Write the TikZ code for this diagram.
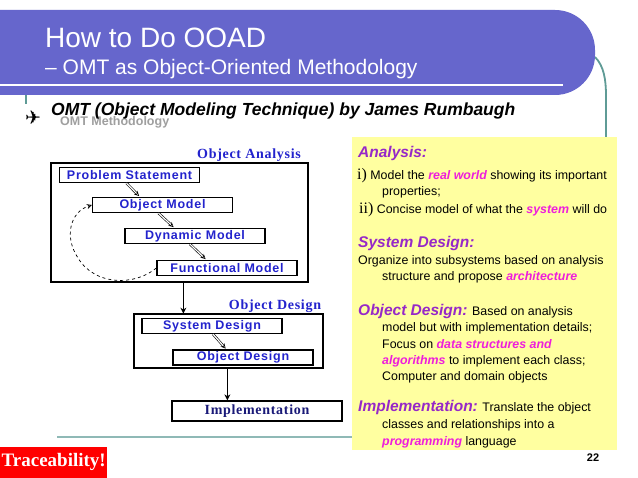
\documentclass[tikz,border=0pt]{standalone}
\usepackage{fontspec}
\setmainfont{Liberation Sans}
\newfontfamily\boxfont[LetterSpace=6]{Liberation Sans}
\newfontfamily\labfont[LetterSpace=5]{Liberation Serif}
\newfontfamily\romfont{Liberation Serif}
\newfontfamily\symfont{DejaVu Sans}
\usetikzlibrary{positioning, calc, arrows.meta}

\definecolor{barblue}{RGB}{102,102,204}
\definecolor{edgeteal}{RGB}{95,155,150}
\definecolor{panelyellow}{RGB}{255,255,160}
\definecolor{headpurple}{RGB}{150,40,200}
\definecolor{keypink}{RGB}{238,30,220}
\definecolor{diagblue}{RGB}{35,35,205}
\definecolor{implnavy}{RGB}{25,25,120}

\newcommand\pxsize[1]{\fontsize{#1}{#1}\selectfont}
\newcommand\secthead[1]{{\pxsize{15.5}\bfseries\itshape\color{headpurple}#1}}
\newcommand\keyword[1]{{\bfseries\itshape\color{keypink}#1}}

\begin{document}
\begin{tikzpicture}[x=1pt, y=-1pt,
    model/.style={draw, line width=1.3pt, font=\boxfont\bfseries\pxsize{12.5}, text=diagblue, minimum width=140, minimum height=15, inner sep=0},
    frame/.style={draw, line width=1.3pt, inner sep=0},
    lab/.style={font=\labfont\bfseries\pxsize{14}, text=diagblue, inner sep=0},
    hollow/.style={double, double distance=1.2pt, line width=0.6pt, -{Stealth[open, length=5pt, width=5pt]}, shorten >=1pt},
    down/.style={line width=1.2pt, -{Stealth[open, length=6pt, width=6pt]}},
    txtline/.style={anchor=base west, inner sep=0, font=\pxsize{12.4}}]
  \useasboundingbox (0,0) rectangle (638,478);
  \fill[white] (0,0) rectangle (638,478);

  % title bar
  \draw[edgeteal, line width=1.8pt] (595,57) .. controls (604,66) and (606,80) .. (606,96) -- (606,140);
  \draw[edgeteal, line width=1.8pt] (26,94) -- (26,104);
  \fill[barblue, rounded corners=40pt] (-60,10) rectangle (595,95);
  \draw[white, line width=2pt] (0,85) -- (563,85);
  \node[anchor=base west, inner sep=0, text=white, font=\pxsize{28}] (title) at (45,48) {How to Do OOAD};
  \node[anchor=base west, inner sep=0, text=white, font=\pxsize{21}] (subtitle) at (45,75) {– OMT as Object-Oriented Methodology};

  % bullet
  \node[anchor=base west, inner sep=0, font=\symfont\pxsize{19}] (plane) at (25,125) {✈};
  \node[anchor=base west, inner sep=0, text=gray!75, font=\bfseries\pxsize{12.5}] (omtgrey) at (60,126) {OMT Methodology};
  \node[anchor=base west, inner sep=0, font=\bfseries\itshape\pxsize{17.5}] (omt) at (51,116) {OMT (Object Modeling Technique) by James Rumbaugh};

  % analysis
  \node[lab] (analab) at (249,155) {Object Analysis};
  \node[frame, minimum width=257, minimum height=119] (ana) at (179.5,222.5) {};
  \node[model] (ps) at (129.5,175) {Problem Statement};
  \node[model] (om) at (162.5,205) {Object Model};
  \node[model] (dm) at (195,236) {Dynamic Model};
  \node[model] (fm) at (227,268) {Functional Model};
  \draw[hollow] ([xshift=-3]ps.south) -- ([xshift=48]om.north west);
  \draw[hollow] ([xshift=-4]om.south) -- ([xshift=50]dm.north west);
  \draw[hollow] ([xshift=-5]dm.south) -- ([xshift=50]fm.north west);
  \draw[dashed, line width=0.7pt, -{Stealth[open, length=5pt, width=5pt]}] (fm.west) .. controls (135,286) and (95,286) .. (78,258) .. controls (64,237) and (70,212) .. (om.west);

  % design
  \draw[down] ([xshift=133]ana.south west) -- ++(0,31) coordinate (desin);
  \node[lab] (deslab) at (275,306) {Object Design};
  \node[frame, minimum width=189, minimum height=54] (des) at (228.5,341) {};
  \node[model] (sd) at (212,326) {System Design};
  \node[model] (od) at (243,357.5) {Object Design};
  \draw[hollow] ([xshift=1]sd.south) -- ([xshift=54]od.north west);
  \node[draw, line width=1.3pt, inner sep=0, minimum width=170, minimum height=20, text=implnavy, font=\labfont\bfseries\pxsize{14}] (impl) at (257,411) {Implementation};
  \draw[down] ([xshift=94]des.south west) -- ([xshift=56]impl.north west);

  % notes
  \draw[edgeteal!70, line width=1.5pt] (57,437) -- (352,437);
  \node[fill=panelyellow, minimum width=265, minimum height=313, inner sep=0] (panel) at (484.5,293.5) {};
  \node[txtline] (n1) at (358,158) {\secthead{Analysis:}};
  \node[txtline] (n2) at (357,180) {{\romfont\pxsize{16}i)} Model the \keyword{real world} showing its important};
  \node[txtline] (n3) at (382,196) {properties;};
  \node[txtline] (n4) at (359,214) {{\romfont\pxsize{16}ii)} Concise model of what the \keyword{system} will do};
  \node[txtline] (n5) at (358,248) {\secthead{System Design:}};
  \node[txtline] (n6) at (358,265) {Organize into subsystems based on analysis};
  \node[txtline] (n7) at (382,281) {structure and propose \keyword{architecture}};
  \node[txtline] (n8) at (358,316) {\secthead{Object Design:} Based on analysis};
  \node[txtline] (n9) at (382,332) {model but with implementation details;};
  \node[txtline] (n10) at (382,349) {Focus on \keyword{data structures and}};
  \node[txtline] (n11) at (382,365) {\keyword{algorithms} to implement each class;};
  \node[txtline] (n12) at (382,381) {Computer and domain objects};
  \node[txtline] (n13) at (358,412) {\secthead{Implementation:} Translate the object};
  \node[txtline] (n14) at (382,429) {classes and relationships into a};
  \node[txtline] (n15) at (382,446) {\keyword{programming} language};

  % footer
  \node[fill=red, text=white, font=\romfont\bfseries\pxsize{19}, minimum width=107, minimum height=31, inner sep=0, anchor=south west] (trace) at (0,478) {Traceability!};
  \node[font=\bfseries\pxsize{11}, inner sep=0] (pnum) at (593,458) {22};
\end{tikzpicture}
\end{document}
